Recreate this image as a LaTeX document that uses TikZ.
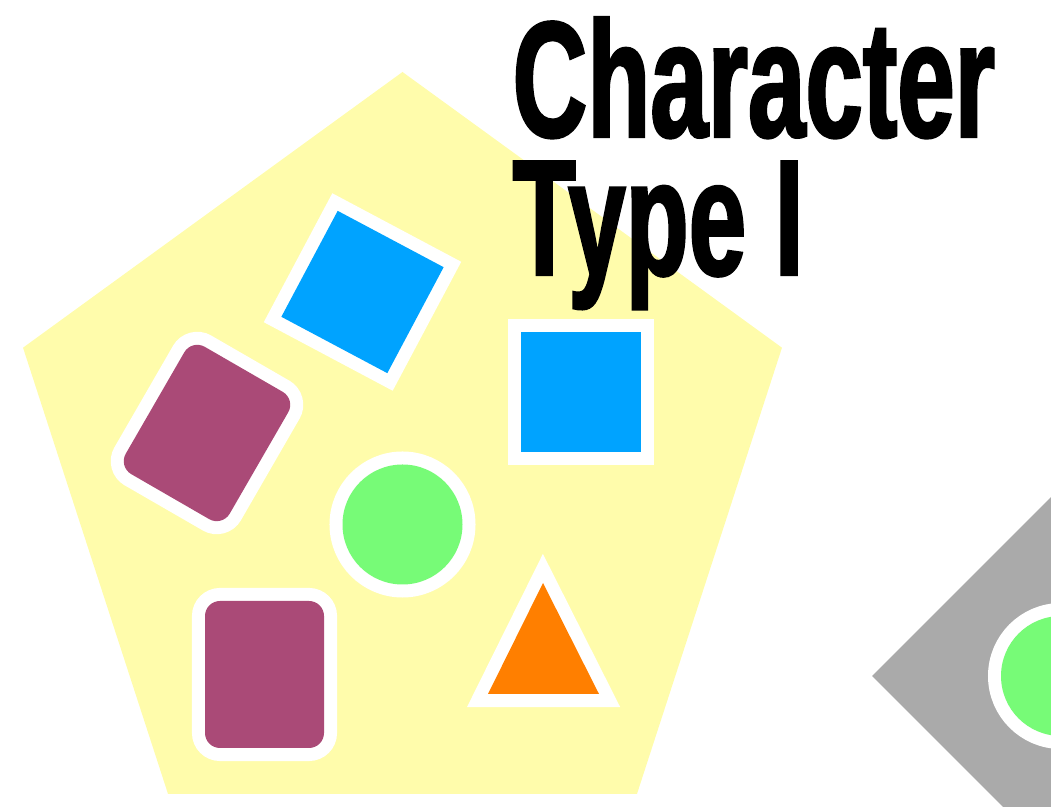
\documentclass[tikz,border=0pt]{standalone}
\usepackage{fontspec}
\newfontfamily\titlefont[FakeStretch=0.625,FakeBold=1.5]{Liberation Sans}
\usetikzlibrary{positioning}
\definecolor{mYellow}{RGB}{255,252,171}
\definecolor{mBlue}{RGB}{0,163,255}
\definecolor{mPlum}{RGB}{170,74,119}
\definecolor{mGreen}{RGB}{119,251,119}
\definecolor{mOrange}{RGB}{255,127,0}
\definecolor{mGray}{RGB}{170,170,170}
\tikzset{
  piece/.style={preaction={draw=white, line width=0.26cm}},
  title/.style={font=\titlefont\bfseries\fontsize{47}{39.3}\selectfont, align=left, inner sep=0pt}
}

\begin{document}
\begin{tikzpicture}[x=0.01cm, y=-0.01cm]
    \useasboundingbox (0,0) rectangle (1051,807);
    \clip (0,0) rectangle (1051,807);
    % Pentagon
    \fill[mYellow] (402.5,471) +(-90:399) -- +(-18:399) -- +(54:399) -- +(126:399) -- +(198:399) -- cycle;
    % Tilted square
    \fill[piece, mBlue, shift={(362.5,292)}, rotate=-28] (-60,-60) rectangle (60,60);
    % Tilted card
    \fill[piece, mPlum, rounded corners=0.15cm, shift={(207,433)}, rotate=-30] (-60,-73.5) rectangle (60,73.5);
    % Upright square
    \fill[piece, mBlue] (521,332) rectangle (641,452);
    % Circle
    \fill[piece, mGreen] (402.5,524.5) circle (60);
    % Triangle
    \fill[piece, mOrange] (543,583) -- (599,694) -- (488,694) -- cycle;
    % Upright card
    \fill[piece, mPlum, rounded corners=0.15cm] (205,601) rectangle (324,748);
    % Diamond at the edge
    \fill[mGray] (872,676) -- (1200,348) -- (1528,676) -- (1200,1004) -- cycle;
    \fill[piece, mGreen] (1061,676) circle (60);
    % Title
    \node[title, anchor=base west] (title) at (512,275) {Character\\Type I};
\end{tikzpicture}
\end{document}
